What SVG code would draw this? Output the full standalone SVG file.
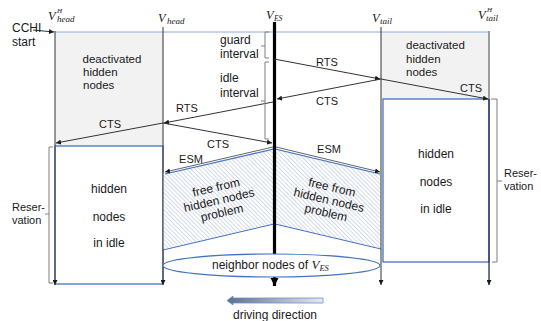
<svg xmlns="http://www.w3.org/2000/svg" width="541" height="321" viewBox="0 0 541 321">
<style>
.t{font-family:"Liberation Sans",Arial,sans-serif;font-size:12px;fill:#1a1a1a}
.c{text-anchor:middle}
.cap{font-size:11px}
.m{font-family:"Liberation Serif","Times New Roman",serif;font-style:italic;fill:#1a1a1a}
.ln{stroke:#333;stroke-width:1;fill:none}
.br{stroke:#7f7f7f;stroke-width:1;fill:none}
.blue{stroke:#4472c4;stroke-width:1.3;fill:#fff}
.gray{fill:#f2f2f2;stroke:none}
</style>
<defs>
<marker id="ah" markerUnits="userSpaceOnUse" markerWidth="6" markerHeight="5" refX="5" refY="2.5" orient="auto">
<path d="M0,0 L5,2.5 L0,5 z" fill="#1a1a1a"/>
</marker>
<marker id="ahb" markerUnits="userSpaceOnUse" markerWidth="10" markerHeight="10" refX="8" refY="4" orient="auto">
<path d="M0,0 L8,4 L0,8 z" fill="#000"/>
</marker>
<pattern id="hatch" width="3" height="3" patternUnits="userSpaceOnUse" patternTransform="rotate(-45)">
<rect width="3" height="3" fill="#fff"/>
<line x1="0.5" y1="0" x2="0.5" y2="3" stroke="#d3dbe9" stroke-width="1"/>
</pattern>
<linearGradient id="grad" x1="0" y1="0" x2="1" y2="0">
<stop offset="0" stop-color="#5b6f8f"/>
<stop offset="1" stop-color="#e4eaf4"/>
</linearGradient>
</defs>
<rect width="541" height="321" fill="#fff"/>

<g id="left-deactivated">
<rect class="gray" x="55" y="32" width="108" height="114"/>
<text class="t c" x="112" y="63" style="font-size:11.5px">deactivated</text>
<text class="t" x="83" y="76" style="font-size:11.5px">hidden</text>
<text class="t" x="83" y="89" style="font-size:11.5px">nodes</text>
</g>
<g id="right-deactivated">
<rect class="gray" x="381" y="32" width="108" height="67"/>
<text class="t" x="406" y="49" style="font-size:11.5px">deactivated</text>
<text class="t" x="406" y="63" style="font-size:11.5px">hidden</text>
<text class="t" x="406" y="76" style="font-size:11.5px">nodes</text>
</g>
<line x1="55" y1="32" x2="489" y2="32" stroke="#8faadc" stroke-width="1"/>

<g id="left-hidden-idle">
<rect class="blue" x="55" y="146" width="108" height="138"/>
<text class="t c" x="109" y="193">hidden</text>
<text class="t c" x="109" y="221">nodes</text>
<text class="t c" x="109" y="247">in idle</text>
</g>
<g id="right-hidden-idle">
<rect class="blue" x="383" y="99" width="106" height="163"/>
<text class="t c" x="436" y="158">hidden</text>
<text class="t c" x="436" y="186">nodes</text>
<text class="t c" x="436" y="213">in idle</text>
</g>

<g id="left-free">
<polygon points="163,173 274,148 274,224 163,250" fill="url(#hatch)"/>
<line x1="163" y1="250" x2="274" y2="224" stroke="#4472c4" stroke-width="1"/>
<line x1="165" y1="174" x2="274" y2="149" stroke="#4472c4" stroke-width="1.2"/>
<g transform="translate(219,200) rotate(-13)">
<text class="t c" x="0" y="-9">free from</text>
<text class="t c" x="0" y="4">hidden nodes</text>
<text class="t c" x="0" y="17">problem</text>
</g>
</g>
<g id="right-free">
<polygon points="275,148 381,173 381,249 275,224" fill="url(#hatch)"/>
<line x1="275" y1="224" x2="381" y2="249" stroke="#4472c4" stroke-width="1"/>
<line x1="275" y1="149" x2="380" y2="174" stroke="#4472c4" stroke-width="1.2"/>
<g transform="translate(329,200) rotate(13)">
<text class="t c" x="0" y="-9">free from</text>
<text class="t c" x="0" y="4">hidden nodes</text>
<text class="t c" x="0" y="17">problem</text>
</g>
</g>

<g id="timelines">
<line class="ln" x1="55" y1="31" x2="55" y2="285" stroke="#1a1a1a" marker-end="url(#ah)"/>
<line class="ln" x1="163" y1="27" x2="163" y2="285" marker-end="url(#ah)"/>
<line class="ln" x1="381" y1="27" x2="381" y2="285" marker-end="url(#ah)"/>
<line x1="489" y1="31" x2="489" y2="99" stroke="#7f7f7f" stroke-width="1.5"/>
<line x1="489" y1="99" x2="489" y2="285" stroke="#1f2d50" stroke-width="1.3" marker-end="url(#ah)"/>
<line x1="274.5" y1="22" x2="274.5" y2="286" stroke="#000" stroke-width="3.2" marker-end="url(#ahb)"/>
</g>

<g id="neighbor-nodes">
<ellipse cx="271.5" cy="265.5" rx="108.5" ry="11.5" fill="#fff" stroke="#4472c4" stroke-width="1.2"/>
<text class="t" x="212" y="269">neighbor nodes of <tspan class="m" style="font-size:13px">V</tspan><tspan class="m" style="font-size:8.5px" dy="2">ES</tspan></text>
</g>

<g id="connectors">
<line class="ln" x1="33" y1="30" x2="54" y2="32" marker-end="url(#ah)"/>
<line class="ln" x1="274" y1="59" x2="380" y2="79" marker-end="url(#ah)"/>
<line class="ln" x1="381" y1="79" x2="488" y2="99" marker-end="url(#ah)"/>
<line class="ln" x1="381" y1="79" x2="277" y2="99" marker-end="url(#ah)"/>
<line class="ln" x1="273" y1="102" x2="164" y2="123" marker-end="url(#ah)"/>
<line class="ln" x1="163" y1="123" x2="56" y2="143" marker-end="url(#ah)"/>
<line class="ln" x1="163" y1="123" x2="272" y2="143" marker-end="url(#ah)"/>
<line x1="273" y1="147" x2="165" y2="172" stroke="#666" stroke-width="1" marker-end="url(#ah)"/>
<line x1="276" y1="147" x2="380" y2="172" stroke="#666" stroke-width="1" marker-end="url(#ah)"/>
</g>

<g id="labels">
<text class="t cap c" x="327" y="66">RTS</text>
<text class="t cap c" x="327" y="105">CTS</text>
<text class="t cap c" x="471" y="92">CTS</text>
<text class="t cap c" x="187" y="112">RTS</text>
<text class="t cap c" x="110" y="128">CTS</text>
<text class="t cap c" x="218" y="148">CTS</text>
<text class="t cap c" x="191" y="163">ESM</text>
<text class="t cap c" x="329" y="153">ESM</text>
<text class="t" x="12" y="32">CCHI</text>
<text class="t" x="12" y="46">start</text>
</g>

<g id="intervals">
<path class="br" d="M269,32 H265 V58 H269 M265,46 H261"/>
<path class="br" d="M269,62 H265 V139 H269 M265,101 H261"/>
<text class="t" x="220" y="44">guard</text>
<text class="t" x="220" y="58">interval</text>
<text class="t" x="220" y="82">idle</text>
<text class="t" x="220" y="97">interval</text>
</g>

<g id="reservation-left">
<path class="br" d="M53,147 H49 V283 H53 M49,214 H45"/>
<text class="t" x="12" y="211" style="font-size:11px">Reser-</text>
<text class="t" x="12" y="224" style="font-size:11px">vation</text>
</g>
<g id="reservation-right">
<path class="br" d="M491,99 H497 V262 H492 M497,181 H502"/>
<text class="t" x="504" y="177" style="font-size:11px">Reser-</text>
<text class="t" x="504" y="190" style="font-size:11px">vation</text>
</g>

<g id="header-labels">
<text class="m" x="48" y="20" style="font-size:12.5px">V</text>
<text class="m" x="57" y="21.5" style="font-size:9px">head</text>
<text class="m" x="57" y="13" style="font-size:7px">H</text>
<text class="m" x="158" y="22" style="font-size:12.5px">V</text>
<text class="m" x="167" y="24" style="font-size:9px">head</text>
<text class="m" x="266" y="19" style="font-size:12.5px">V</text>
<text class="m" x="274" y="21" style="font-size:7.5px">ES</text>
<text class="m" x="372" y="22" style="font-size:12.5px">V</text>
<text class="m" x="380" y="24" style="font-size:9px">tail</text>
<text class="m" x="478" y="19" style="font-size:12.5px">V</text>
<text class="m" x="486" y="21" style="font-size:9px">tail</text>
<text class="m" x="487" y="12" style="font-size:7px">H</text>
</g>

<g id="driving-direction">
<path d="M227,300.5 L233,296 L233,298 L323,298 L323,303 L233,303 L233,305 Z" fill="url(#grad)" stroke="#6f8fc7" stroke-width="0.8"/>
<text class="t c" x="275" y="319">driving direction</text>
</g>
</svg>
